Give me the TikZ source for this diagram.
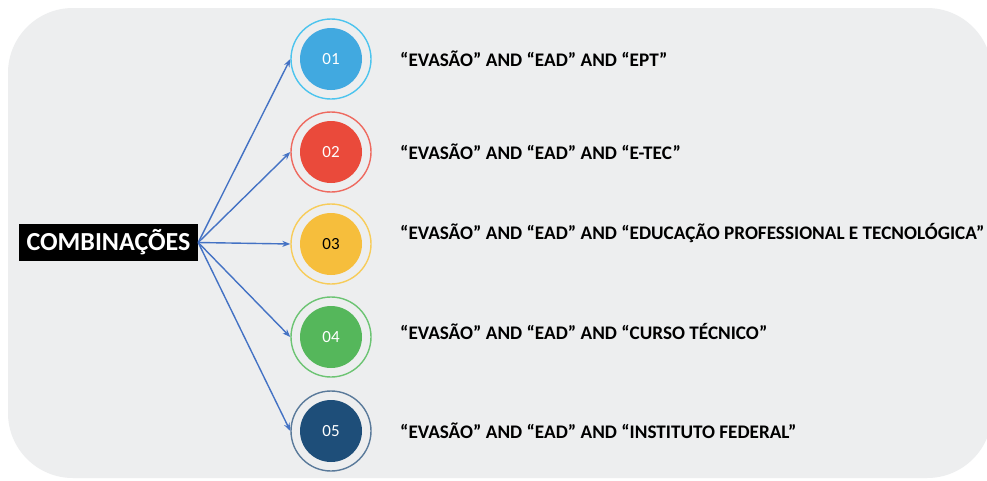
\documentclass[tikz,border=0pt]{standalone}
\usepackage{fontspec}
\setmainfont{Carlito}
\usetikzlibrary{arrows.meta}
\definecolor{bgc}{HTML}{EDEEEF}
\definecolor{arr}{HTML}{4472C4}
\definecolor{cA}{HTML}{41A9E0}\definecolor{rA}{HTML}{4CC4EE}
\definecolor{cB}{HTML}{EA4A3B}\definecolor{rB}{HTML}{EE6A60}
\definecolor{cC}{HTML}{F6BE3C}\definecolor{rC}{HTML}{F7CC5A}
\definecolor{cD}{HTML}{55B75B}\definecolor{rD}{HTML}{6CC473}
\definecolor{cE}{HTML}{1E4E79}\definecolor{rE}{HTML}{5A7A9A}
\begin{document}
\begin{tikzpicture}[x=1pt,y=-1pt,
  dot/.style={circle,minimum size=62pt,inner sep=0pt,font=\fontsize{17}{17}\selectfont,text=white},
  ring/.style={circle,minimum size=80pt,inner sep=0pt,line width=1.4pt,fill=bgc},
  lbl/.style={anchor=west,font=\bfseries\fontsize{19.2}{19.2}\selectfont,inner sep=0pt},
  con/.style={draw=arr,line width=1.4pt,-{Stealth[length=8pt,width=6pt]}}]
\useasboundingbox (0,0) rectangle (987,480);
\fill[white] (0,0) rectangle (987,480);
\fill[bgc,rounded corners=65pt] (8,8) rectangle (992,478);
\node[fill=black,text=white,font=\bfseries\fontsize{26}{26}\selectfont,minimum width=179pt,minimum height=37pt,inner sep=0pt] (comb) at (108.5,242.5) {COMBINAÇÕES};
\foreach \n/\y/\c/\r/\t in {1/59/cA/rA/white,2/152/cB/rB/white,3/244/cC/rC/black,4/337/cD/rD/white,5/431/cE/rE/white}{
  \node[ring,draw=\r] (r\n) at (331,\y) {};
  \node[dot,fill=\c,text=\t] (d\n) at (331,\y) {0\n};
}
\node[lbl] (t1) at (400,59) {“EVASÃO” AND “EAD” AND “EPT”};
\node[lbl] (t2) at (400,152) {“EVASÃO” AND “EAD” AND “E-TEC”};
\node[lbl] (t3) at (400,233) {“EVASÃO” AND “EAD” AND “EDUCAÇÃO PROFESSIONAL E TECNOLÓGICA”};
\node[lbl] (t4) at (400,331) {“EVASÃO” AND “EAD” AND “CURSO TÉCNICO”};
\node[lbl] (t5) at (400,431) {“EVASÃO” AND “EAD” AND “INSTITUTO FEDERAL”};
\foreach \n in {1,...,5}{\draw[con] (comb.east) -- (r\n.west);}
\end{tikzpicture}
\end{document}
